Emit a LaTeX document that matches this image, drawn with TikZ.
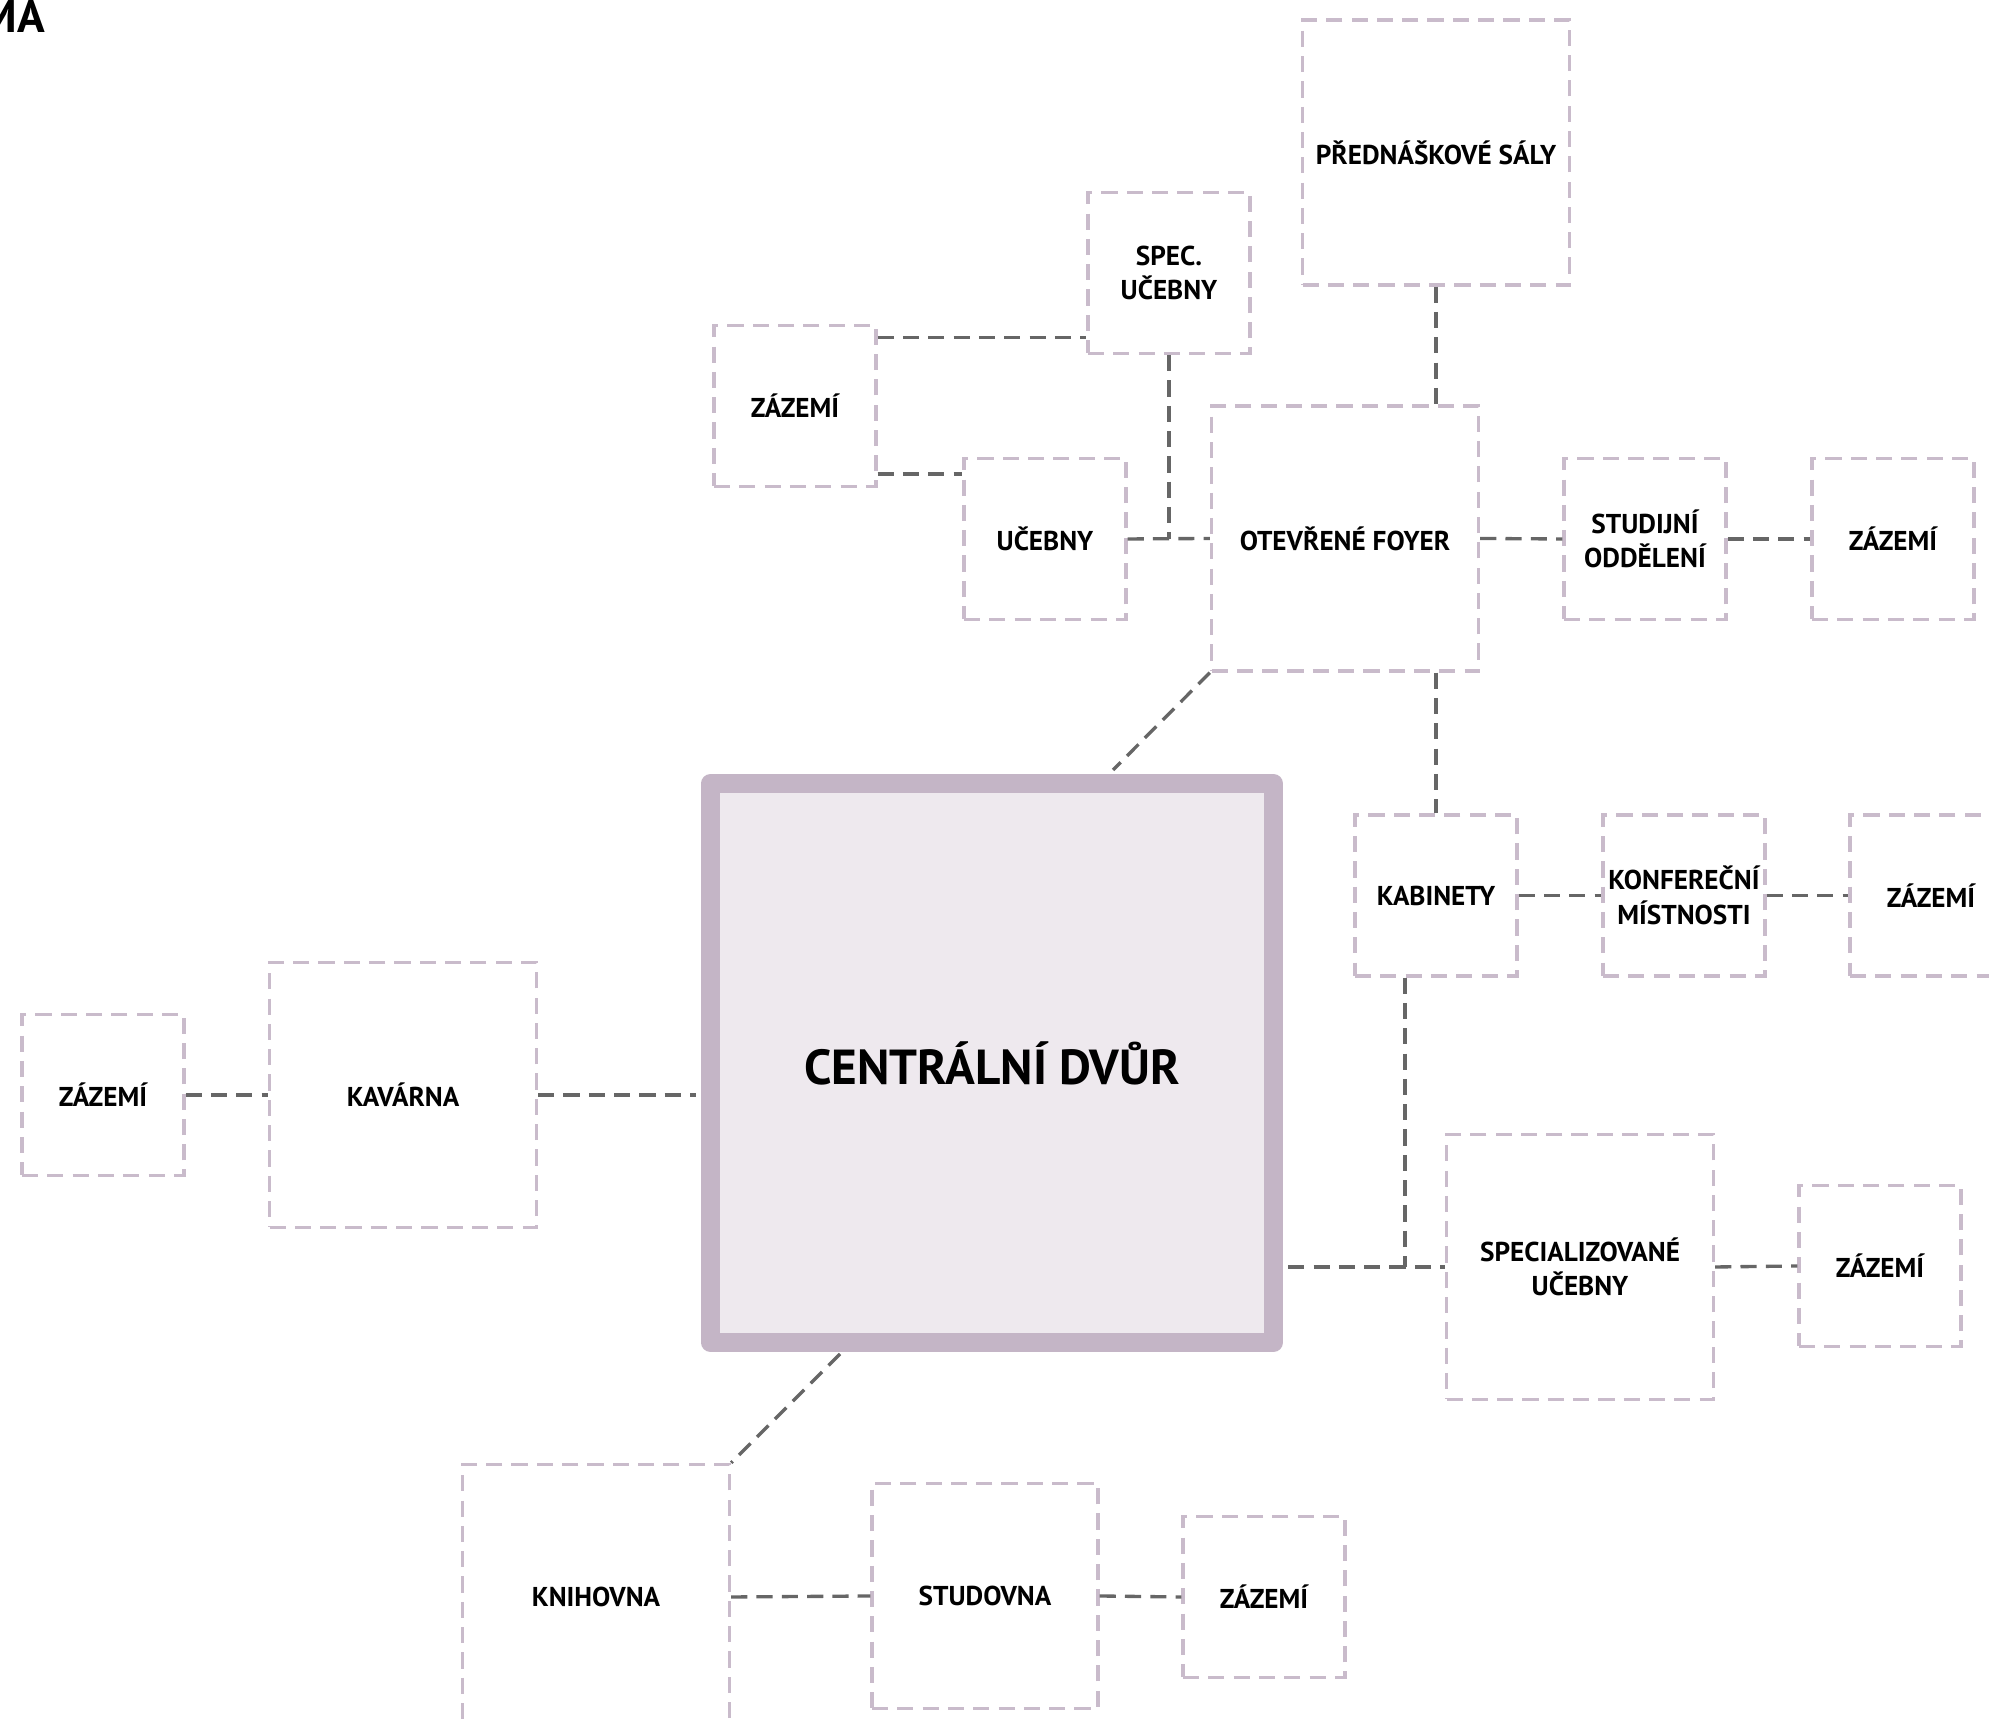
\documentclass[tikz,border=0pt]{standalone}
\usepackage{fontspec}
\setmainfont{PT Sans}

\definecolor{roomline}{HTML}{C9BBCB}
\definecolor{courtline}{HTML}{C4B5C6}
\definecolor{courtfill}{HTML}{EEE9EE}
\definecolor{linkgray}{HTML}{666666}

\tikzset{
    room/.style={draw=roomline, line width=0.95pt, dash pattern=on 4.6pt off 2.6pt,
        minimum width=1.62cm, minimum height=1.61cm, inner sep=0pt, align=center,
        font=\fontsize{7.75}{9.8}\selectfont\bfseries},
    bigroom/.style={room, minimum width=2.67cm, minimum height=2.65cm},
    link/.style={draw=linkgray, line width=0.95pt, dash pattern=on 4.6pt off 2.6pt},
    court/.style={draw=courtline, fill=courtfill, line width=0.19cm, line join=round,
        minimum width=5.635cm, minimum height=5.585cm, outer sep=0.145cm,
        font=\fontsize{14}{17}\selectfont\bfseries}
}

\begin{document}
\begin{tikzpicture}
        \useasboundingbox (0, 0) rectangle (19.89, 17.24);
        \clip (0, 0) rectangle (19.89, 17.24);

        \node[anchor=base east, inner sep=0pt, font=\fontsize{13}{13}\selectfont\bfseries] (title) at (0.455, 16.91) {MA};

        % rooms
        \node[court] (dvur) at (9.92, 6.61) {CENTRÁLNÍ DVŮR};

        \node[bigroom] (pred) at (14.36, 15.715) {PŘEDNÁŠKOVÉ SÁLY};
        \node[room] (spec) at (11.69, 14.51) {SPEC.\\UČEBNY};
        \node[room] (zaz1) at (7.95, 13.18) {ZÁZEMÍ};
        \node[room] (ucebny) at (10.45, 11.85) {UČEBNY};
        \node[bigroom] (foyer) at (13.45, 11.855) {OTEVŘENÉ FOYER};
        \node[room] (studijni) at (16.45, 11.85) {STUDIJNÍ\\ODDĚLENÍ};
        \node[room] (zaz2) at (18.93, 11.85) {ZÁZEMÍ};

        \node[room] (kabinety) at (14.36, 8.285) {KABINETY};
        \node[room] (konf) at (16.84, 8.285) {KONFEREČNÍ\\MÍSTNOSTI};
        \node[room] (zaz3) at (19.31, 8.285) {ZÁZEMÍ};

        \node[room] (zaz4) at (1.03, 6.29) {ZÁZEMÍ};
        \node[bigroom] (kavarna) at (4.03, 6.29) {KAVÁRNA};

        \node[bigroom] (specuc) at (15.80, 4.57) {SPECIALIZOVANÉ\\UČEBNY};
        \node[room] (zaz5) at (18.80, 4.58) {ZÁZEMÍ};

        \node[bigroom] (knihovna) at (5.96, 1.27) {KNIHOVNA};
        \node[room, minimum width=2.26cm, minimum height=2.25cm] (studovna) at (9.85, 1.28) {STUDOVNA};
        \node[room] (zaz6) at (12.64, 1.27) {ZÁZEMÍ};

        % connectors
        \coordinate (dvur-top) at (11.13, 9.54);
        \coordinate (dvur-bottom) at (8.40, 3.70);
        \coordinate (z1a) at ([yshift=-1.4mm]zaz1.north east);
        \coordinate (z1b) at ([yshift=1.4mm]zaz1.south east);
        \coordinate (kab-s) at ([xshift=-3.1mm]kabinety.south);

        \draw[link] (pred.south) -- (pred.south |- foyer.north);
        \draw[link] (z1a) -- (z1a -| spec.west);
        \draw[link] (z1b) -- (z1b -| ucebny.west);
        \draw[link] (spec.south) -- (spec.south |- ucebny.east);
        \draw[link] (ucebny.east) -- (foyer.west);
        \draw[link] (foyer.east) -- (studijni.west);
        \draw[link] (studijni.east) -- (zaz2.west);
        \draw[link] (foyer.south west) -- (dvur-top);
        \draw[link] (kabinety.north |- foyer.south) -- (kabinety.north);
        \draw[link] (kabinety.east) -- (konf.west);
        \draw[link] (konf.east) -- (zaz3.west);
        \draw[link] (kab-s) -- (kab-s |- specuc.west);
        \draw[link] (dvur.east |- specuc.west) -- (specuc.west);
        \draw[link] (specuc.east) -- (zaz5.west);
        \draw[link] (zaz4.east) -- (kavarna.west);
        \draw[link] (kavarna.east) -- (kavarna.east -| dvur.west);
        \draw[link] (dvur-bottom) -- (knihovna.north east);
        \draw[link] (knihovna.east) -- (studovna.west);
        \draw[link] (studovna.east) -- (zaz6.west);

    \end{tikzpicture}
\end{document}
